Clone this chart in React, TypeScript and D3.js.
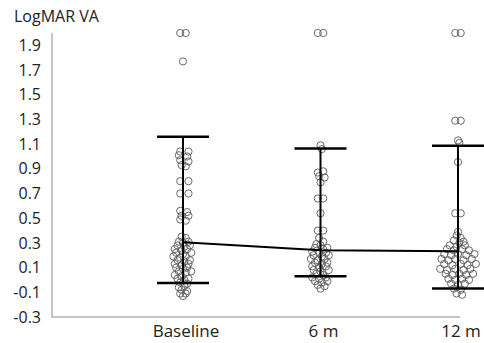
import React from 'react';
import * as d3 from 'd3';

const categories = ['Baseline', '6 m', '12 m'];
const means = [0.305, 0.24, 0.232];
const upperBars = [1.16, 1.065, 1.087];
const lowerBars = [-0.025, 0.03, -0.07];
const yTicks = [1.9, 1.7, 1.5, 1.3, 1.1, 0.9, 0.7, 0.5, 0.3, 0.1, -0.1, -0.3];

// [x, logMAR] — x carries the jitter around the group position
const baselinePoints: [number, number][] = [
  [0.98, 2.0], [1.02, 2.0], [1.0, 1.77],
  [0.98, 1.04], [1.04, 1.04], [0.97, 1.01], [1.03, 1.0], [0.98, 0.97], [1.04, 0.96],
  [0.99, 0.93], [1.02, 0.92], [0.98, 0.8], [1.04, 0.8], [0.98, 0.7], [1.04, 0.7],
  [0.98, 0.56], [1.03, 0.55], [0.99, 0.52], [1.04, 0.52], [0.98, 0.49], [1.02, 0.48],
  [0.99, 0.35], [1.02, 0.34], [0.97, 0.31], [1.04, 0.31], [1.0, 0.3],
  [0.96, 0.28], [1.01, 0.27], [1.05, 0.28], [0.94, 0.25], [0.99, 0.24], [1.03, 0.25],
  [0.95, 0.22], [1.0, 0.21], [1.06, 0.22], [0.93, 0.19], [0.98, 0.18], [1.02, 0.19],
  [0.96, 0.16], [1.01, 0.15], [1.05, 0.16], [0.94, 0.13], [0.99, 0.12], [1.04, 0.13],
  [0.95, 0.1], [1.0, 0.09], [1.03, 0.1], [0.97, 0.07], [1.02, 0.06], [1.06, 0.07],
  [0.94, 0.04], [0.99, 0.03], [0.96, 0.01], [1.01, 0.0], [1.04, 0.01],
  [0.98, -0.02], [1.03, -0.03], [0.97, -0.06], [1.01, -0.05],
  [0.99, -0.08], [1.03, -0.09], [0.98, -0.11], [1.02, -0.11], [1.0, -0.13],
];

const sixMonthPoints: [number, number][] = [
  [1.98, 2.0], [2.02, 2.0],
  [2.0, 1.09], [2.01, 1.06], [1.98, 0.87], [2.02, 0.88], [1.99, 0.84], [2.03, 0.83],
  [2.0, 0.79], [1.98, 0.66], [2.02, 0.66], [2.0, 0.54], [1.98, 0.4], [2.02, 0.4],
  [1.99, 0.34], [2.02, 0.31], [1.97, 0.29], [2.0, 0.28],
  [1.96, 0.26], [2.02, 0.25], [2.05, 0.26], [1.94, 0.23], [1.99, 0.22], [2.04, 0.22],
  [1.95, 0.2], [2.01, 0.19], [2.06, 0.2], [1.93, 0.17], [1.98, 0.16], [2.03, 0.17],
  [1.96, 0.14], [2.01, 0.13], [2.05, 0.14], [1.94, 0.11], [1.99, 0.1], [2.04, 0.11],
  [1.95, 0.08], [2.0, 0.07], [2.06, 0.08], [1.97, 0.05], [2.02, 0.04], [1.94, 0.02],
  [1.99, 0.01], [2.04, 0.02], [1.96, -0.01], [2.01, -0.02], [2.05, -0.01],
  [1.98, -0.04], [2.03, -0.05], [2.0, -0.07],
];

const twelveMonthPoints: [number, number][] = [
  [2.98, 2.0], [3.02, 2.0], [2.98, 1.29], [3.02, 1.29],
  [3.0, 1.13], [3.01, 1.11], [3.0, 0.955], [2.98, 0.54], [3.02, 0.54], [3.0, 0.39],
  [2.99, 0.36], [3.02, 0.34], [2.97, 0.32], [3.01, 0.3], [3.04, 0.31],
  [2.94, 0.28], [2.99, 0.27], [3.05, 0.28], [2.92, 0.25], [2.97, 0.24], [3.03, 0.25], [3.08, 0.24],
  [2.9, 0.21], [2.95, 0.2], [3.0, 0.21], [3.06, 0.2], [3.12, 0.21],
  [2.88, 0.17], [2.93, 0.16], [2.98, 0.17], [3.04, 0.16], [3.1, 0.17],
  [2.9, 0.13], [2.96, 0.12], [3.02, 0.13], [3.07, 0.12], [3.13, 0.13],
  [2.87, 0.09], [2.92, 0.08], [2.98, 0.09], [3.04, 0.08], [3.09, 0.09],
  [2.91, 0.05], [2.96, 0.04], [3.01, 0.05], [3.06, 0.04], [3.11, 0.05],
  [2.93, 0.01], [2.98, 0.0], [3.03, 0.01], [3.08, 0.0],
  [2.95, -0.03], [3.0, -0.04], [3.05, -0.03],
  [2.97, -0.07], [3.02, -0.08], [2.99, -0.11], [3.03, -0.12],
];

const allPoints = [baselinePoints, sixMonthPoints, twelveMonthPoints];

const W = 484;
const H = 343;

export default function App() {
  const x = d3.scaleLinear().domain([1, 3]).range([183, 458]);
  const y = d3.scaleLinear().domain([-0.3, 2.0]).range([317, 33]);
  const font = "'Open Sans', 'Liberation Sans', sans-serif";

  const meanLine = d3.line<number>()
    .x((_, i) => x(i + 1))
    .y(d => y(d));

  return (
    <div style={{ position: 'fixed', left: 0, top: 0, background: '#fff' }}>
      <svg width={W} height={H} style={{ display: 'block' }} fontFamily={font}>
        <rect width={W} height={H} fill="#fff" />
        <text x={14} y={22} fontSize={16} fill="#222">LogMAR VA</text>

        {/* axes */}
        <line x1={52} x2={52} y1={33} y2={y(-0.3)} stroke="#8c8c8c" strokeWidth={1} />
        <line x1={52} x2={460} y1={y(-0.3)} y2={y(-0.3)} stroke="#8c8c8c" strokeWidth={1} />

        {yTicks.map(t => (
          <text key={t} x={41} y={y(t)} dy="0.35em" textAnchor="end" fontSize={16} fill="#222">
            {t.toFixed(1)}
          </text>
        ))}

        {categories.map((c, i) => (
          <text key={c} x={x(i + 1) + 3} y={337} textAnchor="middle" fontSize={17} fill="#222">
            {c}
          </text>
        ))}

        {/* individual points */}
        {allPoints.map((pts, gi) => (
          <g key={gi}>
            {pts.map((p, pi) => (
              <circle key={pi} cx={x(p[0])} cy={y(p[1])} r={3.6}
                fill="none" stroke="#5a5a5a" strokeWidth={0.9} />
            ))}
          </g>
        ))}

        {/* range bars */}
        {categories.map((c, i) => (
          <g key={c}>
            <line x1={x(i + 1)} x2={x(i + 1)} y1={y(upperBars[i])} y2={y(lowerBars[i])}
              stroke="#000" strokeWidth={2} />
            <line x1={x(i + 1) - 26} x2={x(i + 1) + 26} y1={y(upperBars[i])} y2={y(upperBars[i])}
              stroke="#000" strokeWidth={2.5} />
            <line x1={x(i + 1) - 26} x2={x(i + 1) + 26} y1={y(lowerBars[i])} y2={y(lowerBars[i])}
              stroke="#000" strokeWidth={2.5} />
          </g>
        ))}

        <path d={meanLine(means) ?? ''} fill="none" stroke="#000" strokeWidth={2} />
      </svg>
    </div>
  );
}
